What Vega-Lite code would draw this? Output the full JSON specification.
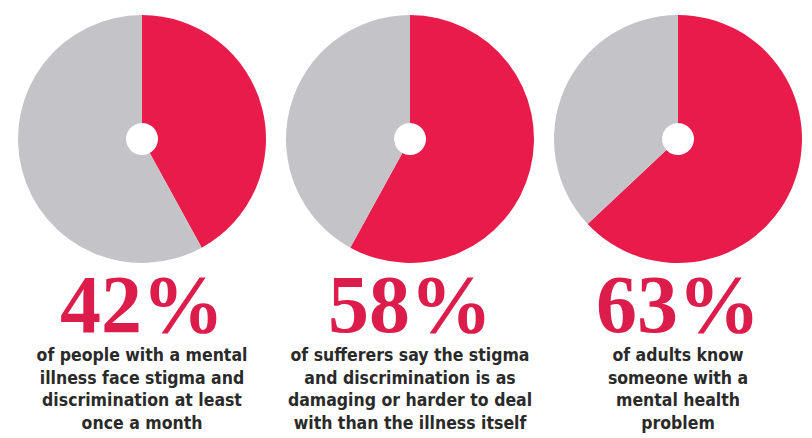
{
  "$schema": "https://vega.github.io/schema/vega-lite/v6.json",
  "padding": {"left": 8, "top": 0, "right": 0, "bottom": 0},
  "background": "white",
  "config": {"view": {"stroke": null}},
  "spacing": -12,
  "datasets": {
    "pies": [
      {"id": 1, "part": "share", "value": 42},
      {"id": 1, "part": "rest", "value": 58},
      {"id": 2, "part": "share", "value": 58},
      {"id": 2, "part": "rest", "value": 42},
      {"id": 3, "part": "share", "value": 63},
      {"id": 3, "part": "rest", "value": 37}
    ],
    "stats": [
      {"id": 1, "pct": "42%", "caption": "of people with a mental\nillness face stigma and\ndiscrimination at least\nonce a month"},
      {"id": 2, "pct": "58%", "caption": "of sufferers say the stigma\nand discrimination is as\ndamaging or harder to deal\nwith than the illness itself"},
      {"id": 3, "pct": "63%", "caption": "of adults know\nsomeone with a\nmental health\nproblem"}
    ]
  },
  "vconcat": [
    {
      "data": {"name": "pies"},
      "facet": {"column": {"field": "id", "type": "ordinal", "header": {"title": null, "labels": false}}},
      "spacing": 0,
      "spec": {
        "width": 268,
        "height": 278,
        "mark": {"type": "arc", "radius": 124, "innerRadius": 16},
        "encoding": {
          "theta": {"field": "value", "type": "quantitative", "stack": true},
          "order": {"field": "part", "sort": "descending"},
          "color": {"field": "part", "type": "nominal", "scale": {"domain": ["share", "rest"], "range": ["#e91b4b", "#c4c4c8"]}, "legend": null}
        }
      }
    },
    {
      "data": {"name": "stats"},
      "facet": {"column": {"field": "id", "type": "ordinal", "header": {"title": null, "labels": false}}},
      "spacing": 0,
      "spec": {
        "width": 268,
        "height": 160,
        "layer": [
          {
            "mark": {"type": "text", "font": "Liberation Serif", "fontWeight": "bold", "fontSize": 82, "baseline": "alphabetic", "dy": -26, "color": "#dc1c4a"},
            "encoding": {"text": {"field": "pct"}}
          },
          {
            "mark": {"type": "text", "font": "DejaVu Sans Condensed", "fontWeight": "bold", "fontSize": 17.5, "lineHeight": 22.7, "lineBreak": "\n", "baseline": "top", "dy": -11, "color": "#2a2a2a"},
            "encoding": {"text": {"field": "caption"}}
          }
        ]
      }
    }
  ]
}
